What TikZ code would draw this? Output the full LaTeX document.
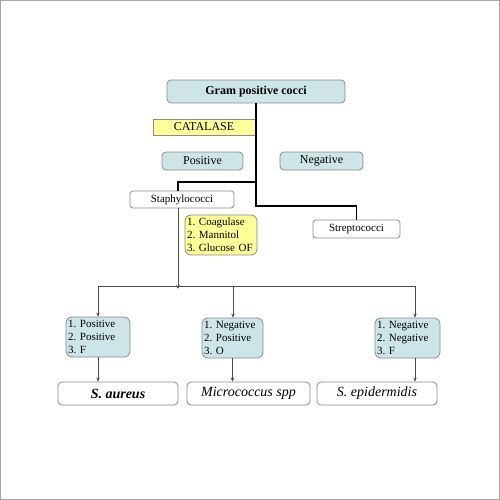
\documentclass[tikz,border=0pt]{standalone}
\usepackage{fontspec}
\setmainfont{Liberation Serif}
\usetikzlibrary{arrows.meta,positioning}
\definecolor{cellblue}{HTML}{CDE5E7}
\definecolor{cellyellow}{HTML}{FFFF99}
\definecolor{edgegray}{HTML}{8A8A8A}
\definecolor{wiregray}{HTML}{4D4D4D}
\frenchspacing

\begin{document}
\begin{tikzpicture}[x=1pt, y=-1pt,
  box/.style={draw=edgegray, line width=0.8pt, inner sep=2pt, text=black},
  bluebox/.style={box, rounded corners=4pt, fill=cellblue, minimum height=18pt, font=\fontsize{12}{14}\selectfont},
  catbox/.style={box, fill=cellyellow, minimum width=102pt, minimum height=16pt, font=\fontsize{12}{14}\selectfont},
  namebox/.style={box, rounded corners=3pt, fill=white, minimum height=17pt, font=\fontsize{11}{13}\selectfont},
  testbox/.style={box, rounded corners=6pt, align=left, minimum height=40pt, font=\fontsize{11}{13}\selectfont},
  resultbox/.style={box, rounded corners=4pt, fill=white, minimum width=120pt, minimum height=23pt, font=\fontsize{14}{16}\selectfont\itshape},
  trunk/.style={line width=1.6pt, black},
  wire/.style={line width=0.8pt, wiregray},
  arr/.style={wire, -{Stealth[length=4pt, width=3.5pt]}}
]
\useasboundingbox (0,0) rectangle (500,500);
\draw[black!35, line width=1pt] (0.5,0.5) rectangle (499.5,499.5);

% top of the key
\node[bluebox, minimum width=178pt, minimum height=23pt, font=\fontsize{12}{14}\selectfont\bfseries] (gpc) at (256,91.5) {Gram positive cocci};
\node[catbox] (cat) at (204,127) {CATALASE};
\node[bluebox, minimum width=81pt] (pos) at (202.5,161) {Positive};
\node[bluebox, minimum width=83pt] (neg) at (321.5,161) {Negative};
\node[namebox, minimum width=104pt] (staph) at (182,199.5) {Staphylococci};
\node[namebox, minimum width=87pt, minimum height=18pt] (strep) at (356.5,229) {Streptococci};
\node[testbox, fill=cellyellow, text width=68pt] (tests) at (221,235) {1. Coagulase\\2. Mannitol\\3. Glucose OF};

% test results
\node[testbox, fill=cellblue, text width=60pt] (ra) at (98,337) {1. Positive\\2. Positive\\3. F};
\node[testbox, fill=cellblue, text width=57pt] (rb) at (232.5,338) {1. Negative\\2. Positive\\3. O};
\node[testbox, fill=cellblue, text width=61pt] (rc) at (407.5,338) {1. Negative\\2. Negative\\3. F};

% species
\node[resultbox, font=\fontsize{14}{16}\selectfont\bfseries\itshape] (sa) at (118,393.5) {S. aureus};
\node[resultbox, minimum width=123pt] (mic) at (248.5,393.5) {Micrococcus spp};
\node[resultbox] (sep) at (377,393.5) {S. epidermidis};

% connectors
\coordinate (split) at (256,182);
\coordinate (fork) at (256,206);
\draw[trunk] (gpc.south) -- (fork) -| (strep.north);
\draw[trunk] (split) -| ([xshift=-4pt]staph.north);

\coordinate (stem) at (178,289);
\coordinate (busa) at (98,286);
\coordinate (busb) at (233,286);
\coordinate (busc) at (415,286);
\draw[arr] ([xshift=-4pt]staph.south) -- (stem);
\draw[wire] (busa) -- (busc);
\draw[arr] (busa) -- (busa |- ra.north);
\draw[arr] (busb) -- (busb |- rb.north);
\draw[arr] (busc) -- (busc |- rc.north);
\draw[arr] (ra.south) -- (ra.south |- sa.north);
\draw[arr] (rb.south) -- (rb.south |- mic.north);
\draw[arr] (busc |- rc.south) -- (busc |- sep.north);
\end{tikzpicture}
\end{document}
